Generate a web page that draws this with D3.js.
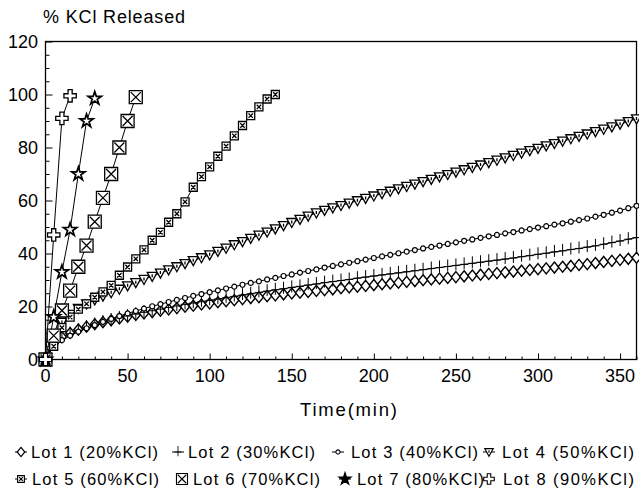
<!DOCTYPE html>
<html>
<head>
<meta charset="utf-8">
<script src="https://cdn.jsdelivr.net/npm/d3@7"></script>
<style>
  body { margin: 0; background: #fff; }
  svg { display: block; font-family: "Liberation Sans", Arial, sans-serif; }
</style>
</head>
<body>
<div id="chart"></div>
<script>
// sampling times (min), one marker every 5 min
const times = [0, 5, 10, 15, 20, 25, 30, 35, 40, 45, 50, 55, 60, 65, 70, 75, 80, 85, 90, 95,
  100, 105, 110, 115, 120, 125, 130, 135, 140, 145, 150, 155, 160, 165, 170, 175, 180, 185, 190, 195,
  200, 205, 210, 215, 220, 225, 230, 235, 240, 245, 250, 255, 260, 265, 270, 275, 280, 285, 290, 295,
  300, 305, 310, 315, 320, 325, 330, 335, 340, 345, 350, 355, 360];

// % KCl released
const lot1 = [0, 6, 8.5, 10, 11.3, 12.4, 13.3, 14.1, 14.8, 15.5, 16.2, 16.8, 17.4, 17.9, 18.4, 18.9, 19.4, 19.9, 20.3, 20.8,
  21.2, 21.6, 22, 22.4, 22.8, 23.2, 23.5, 23.9, 24.2, 24.6, 24.9, 25.2, 25.5, 25.9, 26.2, 26.5, 26.9, 27.2, 27.5, 27.8,
  28.1, 28.4, 28.7, 29, 29.3, 29.6, 29.9, 30.2, 30.5, 30.8, 31.1, 31.4, 31.7, 32, 32.3, 32.6, 32.9, 33.2, 33.5, 33.8,
  34.1, 34.4, 34.7, 35, 35.3, 35.7, 36, 36.4, 36.8, 37.2, 37.6, 38, 38.4];
const lot2 = [0, 5.5, 8, 9.7, 11, 12.2, 13.2, 14.1, 14.9, 15.7, 16.4, 17.1, 17.8, 18.4, 19, 19.6, 20.2, 20.8, 21.3, 21.8,
  22.3, 22.8, 23.3, 23.8, 24.3, 24.8, 25.3, 25.8, 26.3, 26.7, 27.2, 27.6, 28.1, 28.5, 29, 29.4, 29.8, 30.2, 30.7, 31.1,
  31.5, 31.9, 32.3, 32.7, 33.1, 33.5, 33.9, 34.3, 34.7, 35.1, 35.5, 35.9, 36.3, 36.7, 37.1, 37.5, 37.9, 38.3, 38.8, 39.2,
  39.7, 40.1, 40.6, 41, 41.5, 41.9, 42.4, 42.9, 43.5, 44.1, 44.7, 45.4, 46];
const lot3 = [0, 5, 7.3, 9, 10.5, 11.8, 13, 14.2, 15.3, 16.4, 17.4, 18.3, 19.2, 20.1, 20.9, 21.7, 22.5, 23.2, 24, 24.7,
  25.4, 26.1, 26.8, 27.5, 28.2, 28.9, 29.5, 30.2, 30.8, 31.5, 32.1, 32.8, 33.4, 34, 34.7, 35.3, 35.9, 36.5, 37.1, 37.7,
  38.3, 38.9, 39.5, 40.1, 40.7, 41.3, 41.9, 42.5, 43, 43.6, 44.2, 44.8, 45.3, 45.9, 46.5, 47, 47.6, 48.1, 48.7, 49.2,
  49.8, 50.3, 50.9, 51.4, 52, 52.6, 53.2, 53.9, 54.6, 55.4, 56.2, 57.1, 58];
const lot4 = [0, 9, 14, 17, 19.3, 21, 22.5, 23.9, 25.2, 26.5, 27.8, 29, 30.2, 31.4, 32.6, 33.8, 35, 36.2, 37.3, 38.4,
  39.5, 40.8, 42, 43.3, 44.5, 45.7, 46.9, 48.1, 49.3, 50.5, 51.7, 52.9, 54.1, 55.3, 56.3, 57.2, 58.1, 59, 59.9, 60.8,
  61.7, 62.6, 63.5, 64.4, 65.3, 66.2, 67.1, 68, 68.9, 69.8, 70.7, 71.6, 72.5, 73.4, 74.3, 75.2, 76.1, 77, 77.9, 78.8,
  79.7, 80.6, 81.5, 82.4, 83.3, 84.2, 85.1, 86, 86.9, 87.8, 88.8, 89.8, 90.8];
const lot5 = [0, 5, 12, 16, 19, 21, 23.5, 25.5, 28, 31.8, 34.9, 38, 41.4, 45, 48, 51.8, 55, 59.5, 65, 69,
  72.7, 76.7, 80.5, 84.4, 88.3, 92, 95.3, 98.3, 100];
const lot6 = [0, 9, 18.5, 26, 35, 43, 52, 61, 70, 80, 90, 99];
const lot7 = [0, 16, 33, 49, 70, 90, 98.5];
const lot8 = [0, 47, 91, 99.5];

const lotNames = ["Lot 1 (20%KCl)", "Lot 2 (30%KCl)", "Lot 3 (40%KCl)", "Lot 4 (50%KCl)",
  "Lot 5 (60%KCl)", "Lot 6 (70%KCl)", "Lot 7 (80%KCl)", "Lot 8 (90%KCl)"];
const lotValues = [lot1, lot2, lot3, lot4, lot5, lot6, lot7, lot8];
const lotMarkers = ["diamond", "plus", "circle", "triangle", "smallbox", "bigbox", "star", "cross"];

const xTicks = [0, 50, 100, 150, 200, 250, 300, 350];
const yTicks = [0, 20, 40, 60, 80, 100, 120];

const width = 639, height = 496;
const margin = { top: 41.5, right: 2.5, bottom: 136.5, left: 45.5 };

const svg = d3.select("#chart").append("svg")
  .attr("width", width)
  .attr("height", height);

const x = d3.scaleLinear().domain([0, 360]).range([margin.left, width - margin.right]);
const y = d3.scaleLinear().domain([0, 120]).range([height - margin.bottom, margin.top]);

// marker shapes, drawn around (0,0)
const starPath = d3.symbol(d3.symbolStar, 55)();
const crossPath = d3.symbol(d3.symbolCross, 85)();
const shapes = {
  diamond: { d: "M0,-5.5L4.5,0L0,5.5L-4.5,0Z", fill: "#fff", sw: 1.4 },
  plus: { d: "M0,-7V5M-4,0H4", fill: "none", sw: 1 },
  circle: { d: "M2.5,0A2.5,2.5 0 1,1 -2.5,0A2.5,2.5 0 1,1 2.5,0Z", fill: "#fff", sw: 1.2 },
  triangle: { d: "M-5,-4H5L0,5Z M0,-2V1", fill: "#fff", sw: 1.3 },
  smallbox: { d: "M-4,-4h8v8h-8Z M-2.2,-2.2L2.2,2.2M2.2,-2.2L-2.2,2.2", fill: "#fff", sw: 1.3 },
  bigbox: { d: "M-6.5,-6.5h13v13h-13Z M-5,-5L5,5M5,-5L-5,5", fill: "#fff", sw: 1.3 },
  star: { d: starPath, fill: "#fff", sw: 1.7 },
  cross: { d: crossPath, fill: "#fff", sw: 1.3 },
};

// frame
svg.append("rect")
  .attr("x", x(0)).attr("y", y(120))
  .attr("width", x(360) - x(0)).attr("height", y(0) - y(120))
  .attr("fill", "none").attr("stroke", "#000").attr("stroke-width", 1.3);

// y axis, ticks inward
const yAxis = svg.append("g").attr("transform", `translate(${x(0)},0)`)
  .call(d3.axisRight(y).tickValues(d3.range(0, 121, 5)).tickSize(4).tickFormat(""));
yAxis.select(".domain").remove();
yAxis.selectAll(".tick line").filter((d) => d % 20 === 0).attr("x2", 7);

svg.append("g").selectAll("text")
  .data(yTicks)
  .join("text")
  .attr("x", 38)
  .attr("y", (d) => y(d))
  .attr("dy", "0.38em")
  .attr("text-anchor", "end")
  .attr("font-size", 18)
  .text((d) => d);

// x axis, ticks inward
const xAxis = svg.append("g").attr("transform", `translate(0,${y(0)})`)
  .call(d3.axisTop(x).tickValues(d3.range(0, 361, 10)).tickSize(3).tickFormat(""));
xAxis.select(".domain").remove();
xAxis.selectAll(".tick line").filter((d) => d % 50 === 0).attr("y2", -6);

svg.append("g").selectAll("text")
  .data(xTicks)
  .join("text")
  .attr("x", (d) => x(d))
  .attr("y", 382)
  .attr("text-anchor", "middle")
  .attr("font-size", 18)
  .text((d) => d);

svg.append("text")
  .attr("x", 43).attr("y", 23)
  .attr("font-size", 18)
  .attr("textLength", 142).attr("lengthAdjust", "spacing")
  .text("% KCl Released");

svg.append("text")
  .attr("x", 300).attr("y", 416)
  .attr("font-size", 18.5)
  .attr("textLength", 97).attr("lengthAdjust", "spacing")
  .text("Time(min)");

// series
const line = d3.line().x((d) => x(d[0])).y((d) => y(d[1]));
const series = lotValues.map((vals, i) => ({
  name: lotNames[i],
  marker: lotMarkers[i],
  points: vals.map((v, j) => [times[j], v]),
}));

const plot = svg.append("g");
series.forEach((s) => {
  plot.append("path")
    .datum(s.points)
    .attr("d", line)
    .attr("fill", "none")
    .attr("stroke", "#000")
    .attr("stroke-width", 1);
});
series.forEach((s) => {
  const sh = shapes[s.marker];
  plot.append("g").selectAll("path")
    .data(s.points)
    .join("path")
    .attr("transform", (d) => `translate(${x(d[0])},${y(d[1])})`)
    .attr("d", sh.d)
    .attr("fill", sh.fill)
    .attr("stroke", "#000")
    .attr("stroke-width", sh.sw);
});

// legend, two rows of four
const legendMarkX = [[21, 178, 338, 489], [21, 182, 345, 489]];
const legendTextX = [[31, 188, 351, 502], [32, 193, 357, 503]];
const legendY = [452, 479];
const legend = svg.append("g");
series.forEach((s, i) => {
  const row = Math.floor(i / 4), col = i % 4;
  const mx = legendMarkX[row][col], my = legendY[row];
  const g = legend.append("g").attr("transform", `translate(${mx},${my})`);
  g.append("line").attr("x1", -6).attr("x2", 6).attr("stroke", "#000").attr("stroke-width", 1);
  const sh = shapes[s.marker];
  g.append("path")
    .attr("d", sh.d)
    .attr("transform", "scale(0.85)")
    .attr("fill", s.marker === "star" ? "#000" : sh.fill)
    .attr("stroke", "#000")
    .attr("stroke-width", sh.sw);
  const tx = legendTextX[row][col];
  legend.append("text")
    .attr("x", tx)
    .attr("y", my + 6)
    .attr("font-size", 16.5)
    .attr("textLength", col === 3 ? 634 - tx : 127)
    .attr("lengthAdjust", "spacing")
    .text(s.name);
});
</script>
</body>
</html>
